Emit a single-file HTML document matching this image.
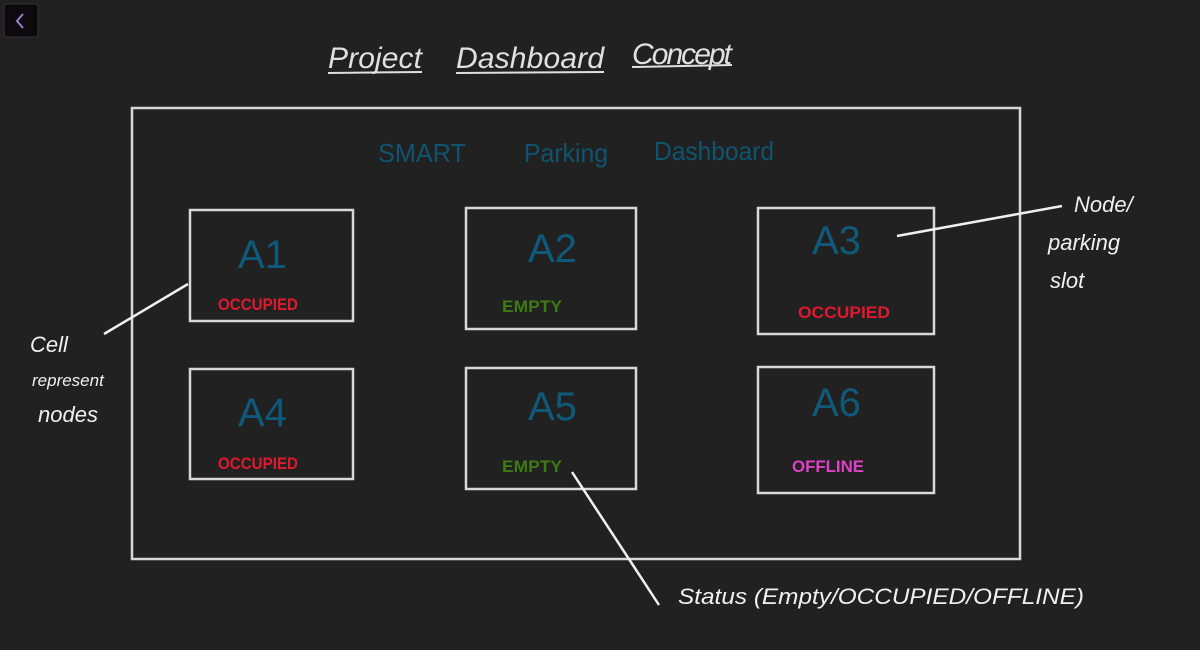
<!DOCTYPE html>
<html><head><meta charset="utf-8"><style>
html,body{margin:0;padding:0;background:#212121;width:1200px;height:650px;overflow:hidden}
svg{display:block}
text{font-family:"Liberation Sans",sans-serif}
</style></head><body>
<svg width="1200" height="650" viewBox="0 0 1200 650">
<rect width="1200" height="650" fill="#212121"/>
<rect x="4" y="4" width="34" height="33" rx="3" fill="#0c0a0e" stroke="#333" stroke-width="1"/>
<polyline points="23,14 17,21 23,28" fill="none" stroke="#9a7fc9" stroke-width="2"/>
<g fill="#e0e0e0" font-size="30" font-style="italic">
<text x="328" y="68" textLength="94">Project</text>
<text x="456" y="68" textLength="148">Dashboard</text>
<text x="632" y="64" textLength="100">Concept</text>
</g>
<g stroke="#e0e0e0" stroke-width="2">
<line x1="328" y1="73" x2="422" y2="72"/>
<line x1="456" y1="73" x2="604" y2="72"/>
<line x1="632" y1="67" x2="732" y2="65"/>
</g>
<g fill="#0f5470" font-size="26">
<text x="378" y="162" textLength="88" lengthAdjust="spacingAndGlyphs">SMART</text>
<text x="524" y="162" textLength="84" lengthAdjust="spacingAndGlyphs">Parking</text>
<text x="654" y="160" textLength="120" lengthAdjust="spacingAndGlyphs">Dashboard</text>
</g>
<g fill="none" stroke="#d8d8d8" stroke-width="2.5">
<rect x="132" y="108" width="888" height="451"/>
<rect x="190" y="210" width="163" height="111"/>
<rect x="466" y="208" width="170" height="121"/>
<rect x="758" y="208" width="176" height="126"/>
<rect x="190" y="369" width="163" height="110"/>
<rect x="466" y="368" width="170" height="121"/>
<rect x="758" y="367" width="176" height="126"/>
</g>
<g fill="#0f5a7a" font-size="40">
<text x="238" y="268">A1</text>
<text x="528" y="262">A2</text>
<text x="812" y="254">A3</text>
<text x="238" y="426">A4</text>
<text x="528" y="420">A5</text>
<text x="812" y="416">A6</text>
</g>
<g font-size="17" font-weight="bold">
<text x="218" y="310" fill="#e0192f" textLength="80" lengthAdjust="spacingAndGlyphs">OCCUPIED</text>
<text x="502" y="312" fill="#3f7a12" textLength="60" lengthAdjust="spacingAndGlyphs">EMPTY</text>
<text x="798" y="318" fill="#e0192f" textLength="92" lengthAdjust="spacingAndGlyphs">OCCUPIED</text>
<text x="218" y="469" fill="#e0192f" textLength="80" lengthAdjust="spacingAndGlyphs">OCCUPIED</text>
<text x="502" y="472" fill="#3f7a12" textLength="60" lengthAdjust="spacingAndGlyphs">EMPTY</text>
<text x="792" y="472" fill="#e040c8" textLength="72" lengthAdjust="spacingAndGlyphs">OFFLINE</text>
</g>
<g stroke="#f0f0f0" stroke-width="2.5">
<line x1="188" y1="284" x2="104" y2="334"/>
<line x1="897" y1="236" x2="1062" y2="206"/>
<line x1="572" y1="472" x2="659" y2="605"/>
</g>
<g fill="#f0f0f0" font-size="22" font-style="italic">
<text x="30" y="352">Cell</text>
<text x="32" y="386" font-size="17">represent</text>
<text x="38" y="422">nodes</text>
<text x="1074" y="212">Node/</text>
<text x="1048" y="250">parking</text>
<text x="1050" y="288">slot</text>
<text x="678" y="604" textLength="406" lengthAdjust="spacingAndGlyphs">Status (Empty/OCCUPIED/OFFLINE)</text>
</g>
</svg>
</body></html>
